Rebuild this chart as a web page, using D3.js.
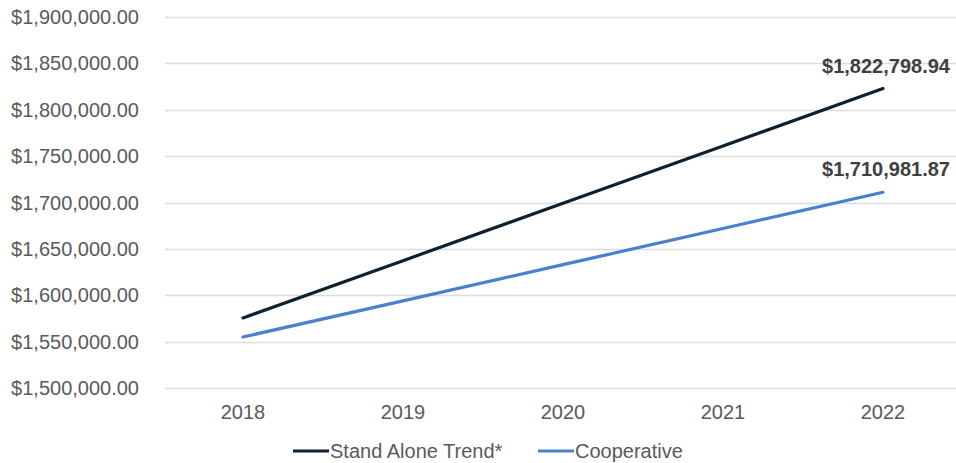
<!DOCTYPE html>
<html>
<head>
<meta charset="utf-8">
<script src="https://cdn.jsdelivr.net/npm/d3@7"></script>
<style>
  body { margin: 0; background: #fff; }
  svg { display: block; font-family: 'Liberation Sans', Arial, sans-serif; }
</style>
</head>
<body>
<svg width="956" height="463"></svg>
<script>
const years = ['2018', '2019', '2020', '2021', '2022']
const standAlone = [1575500, 1637300, 1699100, 1760950, 1822798.94]
const cooperative = [1555000, 1594000, 1633000, 1672000, 1710981.87]
const yTicks = [1500000, 1550000, 1600000, 1650000, 1700000, 1750000, 1800000, 1850000, 1900000]

const series = [
  { name: 'Stand Alone Trend*', values: standAlone, color: '#0c2231' },
  { name: 'Cooperative', values: cooperative, color: '#4a80cd' }
]

const svg = d3.select('svg')
const fmt = d3.format('$,.2f')

const x = d3.scaleBand().domain(years).range([163, 963])
const y = d3.scaleLinear().domain([1500000, 1900000]).range([388, 17])
const cx = (d) => x(d) + x.bandwidth() / 2

// gridlines
svg.append('g')
  .selectAll('line')
  .data(yTicks)
  .enter().append('line')
  .attr('x1', 165)
  .attr('x2', 956)
  .attr('y1', (d) => Math.round(y(d)) + 0.5)
  .attr('y2', (d) => Math.round(y(d)) + 0.5)
  .attr('stroke', '#dcdcdc')
  .attr('stroke-width', 1.5)

// y labels
svg.append('g')
  .selectAll('text')
  .data(yTicks)
  .enter().append('text')
  .attr('x', 139)
  .attr('y', (d) => y(d))
  .attr('dy', '0.35em')
  .attr('text-anchor', 'end')
  .attr('font-size', 20)
  .attr('fill', '#5a5a5a')
  .text((d) => fmt(d))

// x labels
svg.append('g')
  .selectAll('text')
  .data(years)
  .enter().append('text')
  .attr('x', (d) => cx(d))
  .attr('y', 419)
  .attr('text-anchor', 'middle')
  .attr('font-size', 20)
  .attr('fill', '#5a5a5a')
  .text((d) => d)

const line = d3.line()
  .x((d, i) => cx(years[i]))
  .y((d) => y(d))

series.forEach((s) => {
  svg.append('path')
    .datum(s.values)
    .attr('d', line)
    .attr('fill', 'none')
    .attr('stroke', s.color)
    .attr('stroke-width', 3.2)
    .attr('stroke-linecap', 'round')

  const last = s.values[s.values.length - 1]
  svg.append('text')
    .attr('x', cx(years[years.length - 1]) + 3)
    .attr('y', y(last) - 16)
    .attr('text-anchor', 'middle')
    .attr('font-size', 20)
    .attr('font-weight', 'bold')
    .attr('fill', '#404040')
    .text(fmt(last))
})

// legend
const legendPos = [293, 538]
series.forEach((s, i) => {
  const g = svg.append('g').attr('transform', 'translate(' + legendPos[i] + ',451)')
  g.append('line')
    .attr('x1', 0)
    .attr('x2', 36)
    .attr('stroke', s.color)
    .attr('stroke-width', 3.2)
  g.append('text')
    .attr('x', 37)
    .attr('dy', '0.35em')
    .attr('font-size', 20)
    .attr('fill', '#5a5a5a')
    .text(s.name)
})
</script>
</body>
</html>
